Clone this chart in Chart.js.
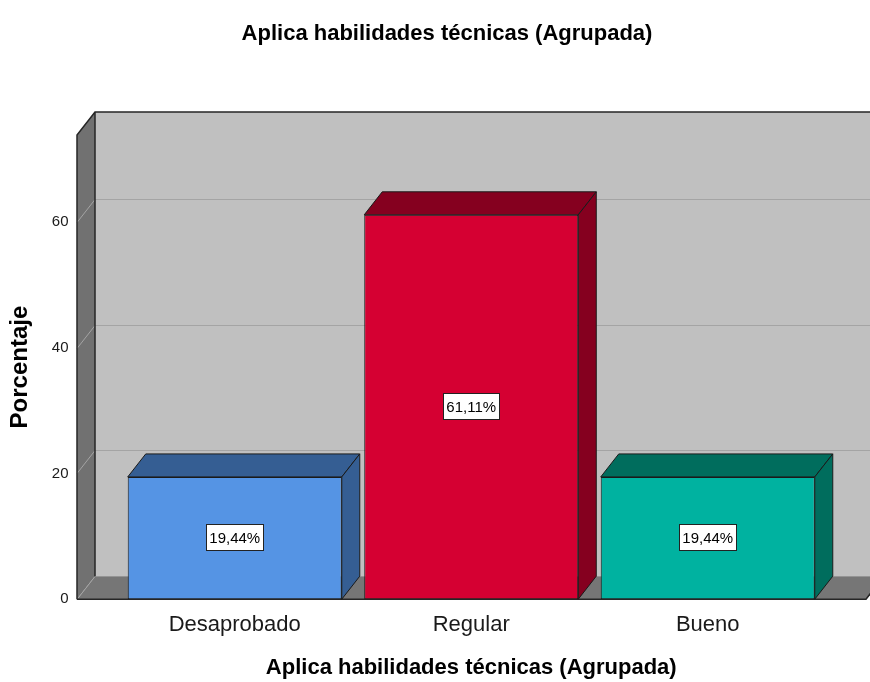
<!DOCTYPE html>
<html>
<head>
<meta charset="utf-8">
<title>Aplica habilidades técnicas (Agrupada)</title>
<script src="https://cdn.jsdelivr.net/npm/chart.js@4.4.1/dist/chart.umd.min.js"></script>
<style>
  html, body { margin: 0; padding: 0; background: #fff; }
  #wrap { width: 870px; height: 682px; }
</style>
</head>
<body>
<div id="wrap"><canvas id="bar-chart" width="870" height="682"></canvas></div>
<script>
// data
const chartTitle = 'Aplica habilidades técnicas (Agrupada)';
const xTitle = 'Aplica habilidades técnicas (Agrupada)';
const yTitle = 'Porcentaje';
const categories = ['Desaprobado', 'Regular', 'Bueno'];
const percentages = [19.44, 61.11, 19.44];
const yMax = 73.8;
const yStep = 20;

// colours: front face, then top / side face
const frontColors = ['#5594e4', '#d50032', '#00b2a0'];
const shadeColors = ['#355e93', '#85001f', '#006d5d'];

const FONT = '"Liberation Sans", Arial, sans-serif';
const DX = 18, DY = 23;   // depth of the 3d box

function poly(ctx, pts, fill) {
  ctx.beginPath();
  ctx.moveTo(pts[0][0], pts[0][1]);
  for (let i = 1; i < pts.length; i++) ctx.lineTo(pts[i][0], pts[i][1]);
  ctx.closePath();
  if (fill) { ctx.fillStyle = fill; ctx.fill(); }
}

function fmt(v) {
  return v.toFixed(2).replace('.', ',') + '%';
}

// walls, floor and gridlines behind the bars, 3d faces and labels on top
const box3d = {
  id: 'box3d',
  beforeDatasetsDraw(chart) {
    const { ctx, chartArea, scales } = chart;
    const top = chartArea.top, bottom = chartArea.bottom;
    const left = chartArea.left - 39.5, right = chartArea.right + 40;
    const far = chart.width + 20;
    ctx.save();

    // back wall
    poly(ctx, [[left + DX, top - DY], [far, top - DY], [far, bottom - DY], [left + DX, bottom - DY]], '#c0c0c0');
    // side wall
    poly(ctx, [[left, top], [left + DX, top - DY], [left + DX, bottom - DY], [left, bottom]], '#717171');
    // floor
    poly(ctx, [[left, bottom], [left + DX, bottom - DY], [far, bottom - DY], [right, bottom]], '#767676');

    // gridlines on the walls
    ctx.strokeStyle = '#a4a4a4';
    ctx.lineWidth = 1;
    scales.y.ticks.forEach(t => {
      const py = Math.round(scales.y.getPixelForValue(t.value)) + 0.5;
      ctx.beginPath();
      ctx.moveTo(left, py);
      ctx.lineTo(left + DX, py - DY);
      if (t.value > 0) ctx.lineTo(far, py - DY);
      ctx.stroke();
    });

    // edges
    ctx.strokeStyle = '#262626';
    ctx.lineWidth = 1.5;
    ctx.beginPath();
    ctx.moveTo(left, bottom);
    ctx.lineTo(left, top);
    ctx.lineTo(left + DX, top - DY);
    ctx.lineTo(far, top - DY);
    ctx.moveTo(left + DX, top - DY);
    ctx.lineTo(left + DX, bottom - DY);
    ctx.moveTo(left, bottom);
    ctx.lineTo(right, bottom);
    ctx.lineTo(right + DX, bottom - DY);
    ctx.stroke();
    ctx.restore();
  },
  afterDatasetsDraw(chart) {
    const { ctx } = chart;
    const meta = chart.getDatasetMeta(0);
    ctx.save();
    meta.data.forEach((bar, i) => {
      const { x, y, base, width } = bar.getProps(['x', 'y', 'base', 'width'], true);
      const x0 = x - width / 2, x1 = x + width / 2;
      ctx.strokeStyle = '#1a1a1a';
      ctx.lineWidth = 1;
      // top face
      poly(ctx, [[x0, y], [x0 + DX, y - DY], [x1 + DX, y - DY], [x1, y]], shadeColors[i]);
      ctx.stroke();
      // side face
      poly(ctx, [[x1, y], [x1 + DX, y - DY], [x1 + DX, base - DY], [x1, base]], shadeColors[i]);
      ctx.stroke();

      // value label
      const txt = fmt(percentages[i]);
      ctx.font = '15px ' + FONT;
      const tw = ctx.measureText(txt).width;
      const cy = Math.round((y + base) / 2);
      const bx = Math.round(x - tw / 2 - 3) + 0.5;
      ctx.fillStyle = '#fff';
      ctx.fillRect(bx, cy - 13.5, Math.round(tw + 6), 26);
      ctx.strokeStyle = '#222';
      ctx.strokeRect(bx, cy - 13.5, Math.round(tw + 6), 26);
      ctx.fillStyle = '#000';
      ctx.textAlign = 'center';
      ctx.textBaseline = 'middle';
      ctx.fillText(txt, x, cy + 1);
    });
    ctx.restore();
  }
};

const barChart = new Chart(document.getElementById('bar-chart'), {
  type: 'bar',
  data: {
    labels: categories,
    datasets: [{
      label: yTitle,
      data: percentages,
      backgroundColor: frontColors,
      borderColor: '#1a1a1a',
      borderWidth: 1,
      borderSkipped: false,
      categoryPercentage: 1,
      barPercentage: 0.905
    }]
  },
  options: {
    responsive: false,
    animation: false,
    layout: {
      padding: { left: 68, right: 44, top: 0, bottom: 1 }
    },
    plugins: {
      legend: { display: false },
      tooltip: { enabled: false },
      title: {
        display: true,
        text: chartTitle,
        color: '#000',
        font: { family: FONT, size: 22, weight: 'bold' },
        padding: { top: 21, bottom: 87.6 }
      }
    },
    scales: {
      x: {
        grid: { display: false, drawTicks: false },
        border: { display: false },
        ticks: {
          color: '#1a1a1a',
          font: { family: FONT, size: 22 },
          padding: 13
        },
        title: {
          display: true,
          text: xTitle,
          color: '#000',
          font: { family: FONT, size: 22, weight: 'bold' },
          padding: { top: 3, bottom: 0 }
        }
      },
      y: {
        min: 0,
        max: yMax,
        grid: { display: false, drawTicks: false },
        border: { display: false },
        ticks: {
          stepSize: yStep,
          includeBounds: false,
          mirror: true,
          crossAlign: 'far',
          color: '#1a1a1a',
          font: { family: FONT, size: 15 },
          padding: -64.7
        },
        title: {
          display: true,
          text: yTitle,
          color: '#000',
          font: { family: FONT, size: 24, weight: 'bold' },
          padding: { top: -62, bottom: 0 }
        },
        afterFit(scale) {
          scale.width = 48.5;
        }
      }
    }
  },
  plugins: [box3d]
});
</script>
</body>
</html>
